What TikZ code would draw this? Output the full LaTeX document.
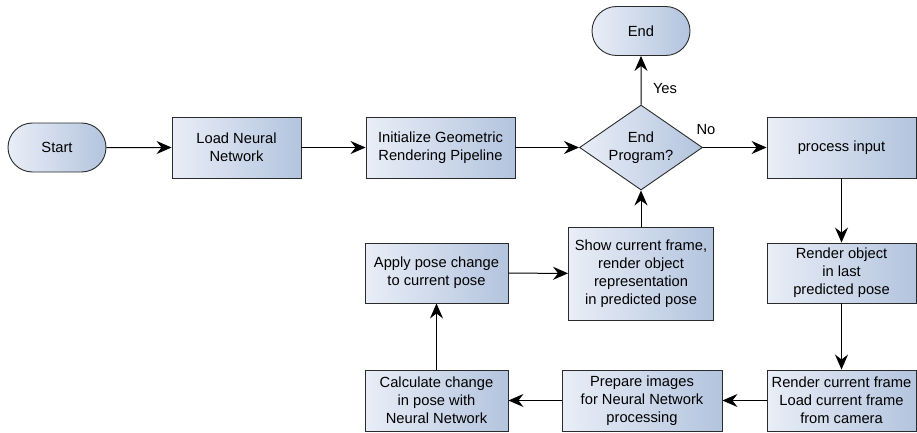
\documentclass[tikz,border=0pt]{standalone}
\usepackage{fontspec}
\setmainfont{Liberation Sans}
\usetikzlibrary{shapes.geometric,shapes.misc,arrows.meta}
\definecolor{boxlight}{HTML}{E9EEF7}
\definecolor{boxdark}{HTML}{B3C4DE}
\definecolor{edge}{HTML}{2B2B2B}
\tikzset{
  flowfont/.style={font=\fontsize{14.7}{18}\selectfont},
  procbox/.style={rectangle, draw=edge, line width=0.9pt, left color=boxlight, right color=boxdark,
    align=center, inner sep=0pt, flowfont},
  termbox/.style={rounded rectangle, draw=edge, line width=0.9pt, left color=boxlight, right color=boxdark,
    align=center, inner sep=0pt, minimum width=98pt, minimum height=49pt, flowfont},
  decbox/.style={diamond, aspect=1.45, draw=edge, line width=0.9pt, left color=boxlight, right color=boxdark,
    align=center, inner sep=0pt, minimum width=123pt, minimum height=85pt, flowfont},
  flow/.style={draw=black, line width=1pt, -{Stealth[length=15pt,width=13pt,inset=5pt]}},
  lbl/.style={flowfont, inner sep=0pt}
}
\begin{document}
\begin{tikzpicture}[x=1pt,y=-1pt]
\useasboundingbox (0,0) rectangle (917,433);
% top row
\node[termbox] (start) at (57,147.5) {Start};
\node[procbox, minimum width=129pt, minimum height=61pt] (load) at (236.5,147.5) {Load Neural\\Network};
\node[procbox, minimum width=149pt, minimum height=61pt] (init) at (440.5,147.5) {Initialize Geometric\\Rendering Pipeline};
\node[decbox] (dec) at (641,147.5) {End\\Program?};
\node[termbox] (end) at (641,31) {End};
\node[procbox, minimum width=149pt, minimum height=61pt] (proc) at (841.5,147.5) {process input};
% right column
\node[procbox, minimum width=149pt, minimum height=60pt] (rendobj) at (841.5,273) {Render object\\in last\\predicted pose};
\node[procbox, minimum width=149pt, minimum height=61pt] (rendcur) at (841.5,400.5) {Render current frame\\Load current frame\\from camera};
% bottom row
\node[procbox, minimum width=160pt, minimum height=61pt] (prep) at (642,400.5) {Prepare images\\for Neural Network\\processing};
\node[procbox, minimum width=143pt, minimum height=61pt] (calc) at (436.5,400.5) {Calculate change\\in pose with\\Neural Network};
% middle row
\node[procbox, minimum width=143pt, minimum height=60pt] (apply) at (436.5,273) {Apply pose change\\to current pose};
\node[procbox, minimum width=145pt, minimum height=93pt] (show) at (641,273.5) {Show current frame,\\render object\\representation\\in predicted pose};
% branch labels
\node[lbl] (yes) at (665,89) {Yes};
\node[lbl] (no) at (706,130) {No};
% connectors
\draw[flow] (start) -- (load);
\draw[flow] (load) -- (init);
\draw[flow] (init) -- (dec);
\draw[flow] (dec.north) -- (end);
\draw[flow] (dec.east) -- (proc);
\draw[flow] (proc) -- (rendobj);
\draw[flow] (rendobj) -- (rendcur);
\draw[flow] (rendcur) -- (prep);
\draw[flow] (prep) -- (calc);
\draw[flow] (calc) -- (apply);
\draw[flow] (apply) -- (show);
\draw[flow] (show) -- (dec.south);
\end{tikzpicture}
\end{document}
